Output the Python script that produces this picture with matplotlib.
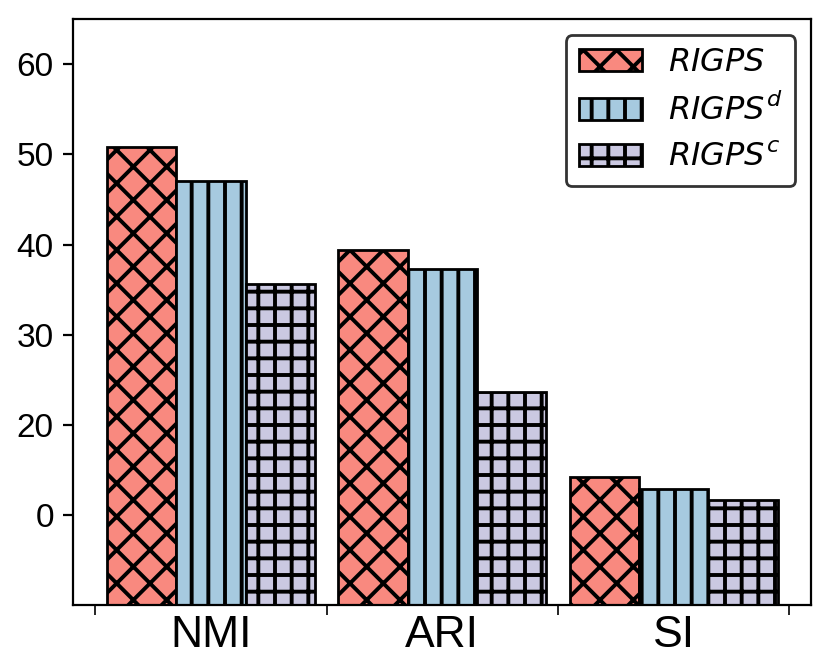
import numpy as np
import matplotlib
matplotlib.use("Agg")
import matplotlib.pyplot as plt

# data (in plotted units)
metrics = ["NMI", "ARI", "SI"]
rigps = [50.8, 39.4, 14.2]
rigps_d = [47.0, 37.3, 12.9]
rigps_c = [35.6, 23.6, 11.7]
series_labels = [r"$\it{RIGPS}$", r"$\it{RIGPS}^d$", r"$\it{RIGPS}^c$"]
ytick_pos = [10, 20, 30, 40, 50, 60]
ytick_labels = ["0", "20", "30", "40", "50", "60"]

colors = ["#F9897F", "#A6CADF", "#CBC9E2"]
hatches = ["xx", "||", "++"]

plt.rcParams["font.family"] = ["Liberation Sans", "DejaVu Sans"]
plt.rcParams["hatch.linewidth"] = 1.4

fig = plt.figure(figsize=(4.15, 3.36), dpi=200)
ax = fig.add_axes([0.0883, 0.0997, 0.9775 - 0.0883, 0.9713 - 0.0997])

x = np.arange(len(metrics))
w = 0.3
for i, vals in enumerate([rigps, rigps_d, rigps_c]):
    ax.bar(x + (i - 1) * w, vals, width=w, color=colors[i], edgecolor="black",
           hatch=hatches[i], linewidth=1.0, label=series_labels[i])

ax.set_ylim(0, 65)
ax.set_yticks(ytick_pos)
ax.set_yticklabels(ytick_labels, fontsize=12)

ax.set_xticks(x)
ax.set_xticklabels(metrics, fontsize=16)
ax.tick_params(axis="x", which="major", length=0)
ax.set_xticks(np.arange(-0.5, len(metrics), 1.0), minor=True)
ax.tick_params(axis="x", which="minor", length=3.5)

leg = ax.legend(loc="upper right", fontsize=11.5, handlelength=2.0,
                fancybox=True, edgecolor="#333333", framealpha=1)

fig.savefig("out.png", dpi=200)
